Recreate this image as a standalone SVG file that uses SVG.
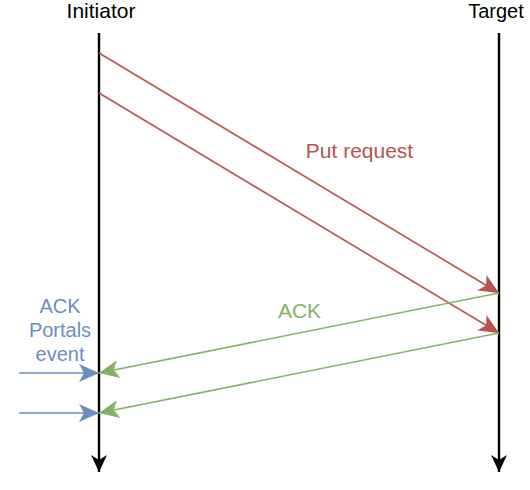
<svg xmlns="http://www.w3.org/2000/svg" width="530" height="490" viewBox="0 0 530 490">
<style>
text{font-family:"Liberation Sans",Arial,Helvetica,sans-serif;font-size:20px;text-anchor:middle}
.big{font-size:21px}
.life{stroke:#000;stroke-width:2.4;fill:none}
.red{stroke:#b85450;stroke-width:1.6;fill:none}
.green{stroke:#82b366;stroke-width:1.6;fill:none}
.blue{stroke:#6c8ebf;stroke-width:1.6;fill:none}
</style>
<defs>
<marker id="aBlack" viewBox="-18 -9 19 18" refX="0" refY="0" markerWidth="19" markerHeight="18" markerUnits="userSpaceOnUse" orient="auto"><path d="M0,0 L-17,-8 L-12,0 L-17,8 Z" fill="#000"/></marker>
<marker id="aRed" viewBox="-21 -10 22 20" refX="0" refY="0" markerWidth="22" markerHeight="20" markerUnits="userSpaceOnUse" orient="auto"><path d="M0,0 L-20,-9 L-15,0 L-20,9 Z" fill="#b85450"/></marker>
<marker id="aGreen" viewBox="-21 -10 22 20" refX="0" refY="0" markerWidth="22" markerHeight="20" markerUnits="userSpaceOnUse" orient="auto"><path d="M0,0 L-20,-9 L-15,0 L-20,9 Z" fill="#82b366"/></marker>
<marker id="aBlue" viewBox="-21 -10 22 20" refX="0" refY="0" markerWidth="22" markerHeight="20" markerUnits="userSpaceOnUse" orient="auto"><path d="M0,0 L-20,-9 L-15,0 L-20,9 Z" fill="#6c8ebf"/></marker>
</defs>
<g id="initiator"><text class="big" x="101" y="18" fill="#000">Initiator</text></g>
<g id="target"><text x="496" y="18" fill="#000">Target</text></g>
<g id="connectors">
<line class="life" x1="99" y1="33" x2="99" y2="472" marker-end="url(#aBlack)"/>
<line class="life" x1="499" y1="33" x2="499" y2="472" marker-end="url(#aBlack)"/>
<line class="red" x1="99" y1="53" x2="499" y2="293" marker-end="url(#aRed)"/>
<line class="red" x1="99" y1="93" x2="499" y2="333" marker-end="url(#aRed)"/>
<line class="green" x1="499" y1="293" x2="99" y2="373" marker-end="url(#aGreen)"/>
<line class="green" x1="499" y1="333" x2="99" y2="413" marker-end="url(#aGreen)"/>
<line class="blue" x1="19" y1="373" x2="99" y2="373" marker-end="url(#aBlue)"/>
<line class="blue" x1="19" y1="413" x2="99" y2="413" marker-end="url(#aBlue)"/>
</g>
<g id="label-put"><text class="big" x="359.5" y="158" fill="#b85450">Put request</text></g>
<g id="label-ack"><text class="big" x="299.5" y="318" fill="#82b366">ACK</text></g>
<g id="label-event"><text x="60" y="313" fill="#6c8ebf">ACK</text><text x="60" y="337" fill="#6c8ebf">Portals</text><text x="60" y="361" fill="#6c8ebf">event</text></g>
</svg>
